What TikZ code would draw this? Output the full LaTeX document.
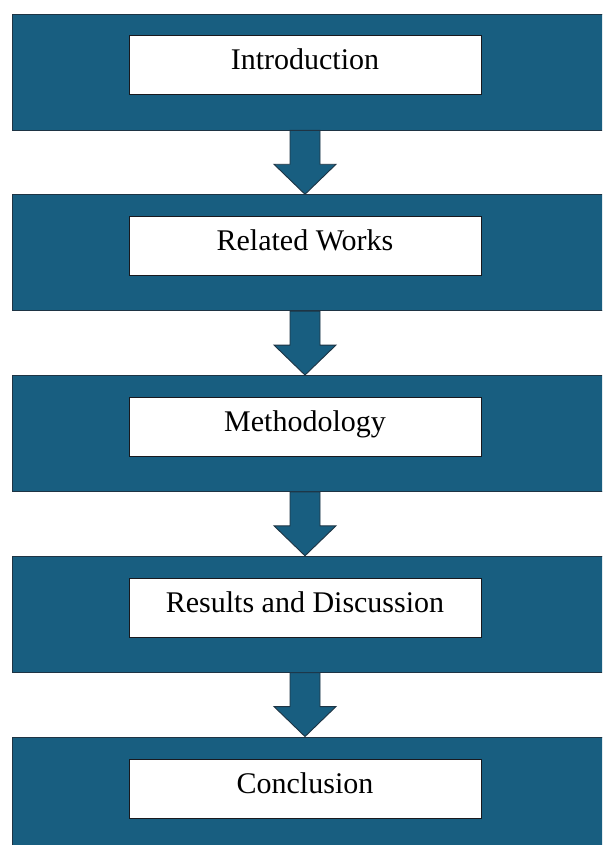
\documentclass[tikz,border=0pt]{standalone}
\usepackage{fontspec}
\setmainfont{Liberation Serif}
\usepackage{xcolor}
\usepackage{tikz}
\usetikzlibrary{positioning, calc}
\definecolor{bandBlue}{RGB}{24, 94, 128}
\definecolor{bandEdge}{RGB}{30, 52, 68}
\definecolor{boxEdge}{RGB}{25, 25, 30}
\tikzset{
    band/.style={
        rectangle,
        draw=bandEdge,
        line width=0.9pt,
        fill=bandBlue,
        minimum width=593pt,
        minimum height=116pt,
        inner sep=0pt
    },
    stage/.style={
        rectangle,
        draw=boxEdge,
        line width=1pt,
        fill=white,
        text=black,
        minimum width=352pt,
        inner sep=0pt,
        text height=34pt,
        text depth=25pt,
        font=\fontsize{30}{36}\selectfont
    },
    flowarrow/.style={
        draw=bandEdge,
        line width=0.9pt,
        fill=bandBlue,
        line join=miter
    }
}

\begin{document}
\begin{tikzpicture}[x=1pt, y=-1pt]
  \clip (0,0) rectangle (602,845);
  \fill[white] (0,0) rectangle (602,845);

  % the five stages, one band each
  \foreach \i/\t in {1/Introduction, 2/Related Works, 3/Methodology,
                     4/Results and Discussion, 5/Conclusion} {
    \node[band] (band\i) at (308.5, {72+(\i-1)*180.75}) {};
    \node[stage] (stage\i) at ($(band\i.center)+(-3.5,-6.5)$) {\t};
  }

  % block arrows between the bands
  \foreach \i in {1,...,4} {
    \pgfmathtruncatemacro{\j}{\i+1}
    \coordinate (a\i) at (stage\i.south |- band\i.south);
    \coordinate (t\i) at (stage\j.north |- band\j.north);
    \draw[flowarrow] ($(a\i)+(-15,0)$) -- ($(a\i)+(15,0)$)
      -- ($(t\i)+(15,-30)$) -- ($(t\i)+(31,-30)$) -- (t\i)
      -- ($(t\i)+(-31,-30)$) -- ($(t\i)+(-15,-30)$) -- cycle;
  }
\end{tikzpicture}
\end{document}
